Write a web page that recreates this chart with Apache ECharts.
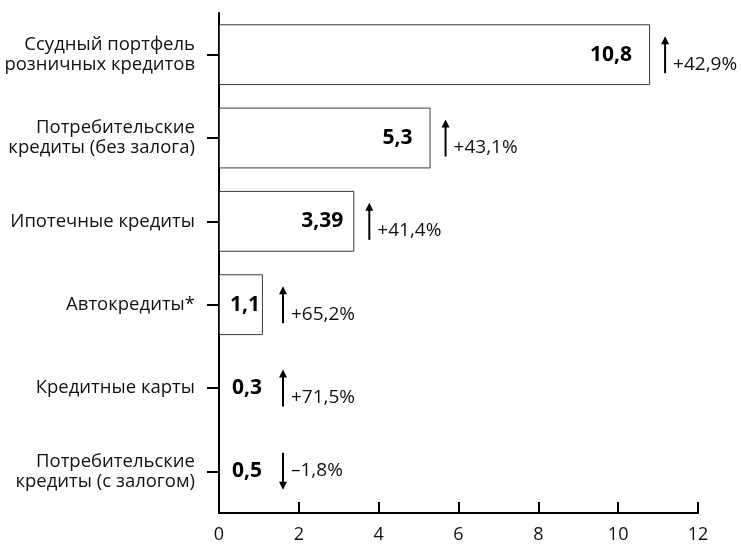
<!DOCTYPE html>
<html><head><meta charset="utf-8">
<script src="https://cdn.jsdelivr.net/npm/echarts@6/dist/echarts.min.js"></script>
<style>html,body{margin:0;padding:0;background:#fff}#c{width:741px;height:546px}</style>
</head><body><div id="c"></div>
<script>
const categories = ['Ссудный портфель\nрозничных кредитов','Потребительские\nкредиты (без залога)','Ипотечные кредиты','Автокредиты*','Кредитные карты','Потребительские\nкредиты (с залогом)'];
const values = [10.8, 5.3, 3.39, 1.1, 0.3, 0.5];
const valueLabels = ['10,8','5,3','3,39','1,1','0,3','0,5'];
const changes = [42.9, 43.1, 41.4, 65.2, 71.5, -1.8];
const changeLabels = ['+42,9%','+43,1%','+41,4%','+65,2%','+71,5%','–1,8%'];
const xTicks = [0, 2, 4, 6, 8, 10, 12];

const FONT = '"Open Sans", "Noto Sans", sans-serif';
const chart = echarts.init(document.getElementById('c'), null, {renderer:'canvas'});

const labelDist = [18, 18, 11, 3];
const barData = values.map((v, i) => {
  let label;
  if (i <= 3) label = {position:'insideRight', distance: labelDist[i]};
  else label = {position:'insideLeft', distance:13};
  const item = {value: v, label: label};
  if (i >= 4) item.itemStyle = {borderColor:'rgba(0,0,0,0)', color:'rgba(0,0,0,0)'};
  return item;
});

chart.setOption({
  animation: false,
  grid: {left: 219, right: 43, top: 13, bottom: 33, containLabel: false, outerBoundsMode: 'none'},
  xAxis: {
    type: 'value', min: xTicks[0], max: xTicks[xTicks.length-1], interval: 2,
    axisLine: {show: true, lineStyle: {color:'#000', width: 2}},
    axisTick: {show: true, inside: true, length: 11, lineStyle: {color:'#000', width: 2}},
    axisLabel: {color:'#111', fontSize: 18, fontFamily: FONT, margin: 13},
    splitLine: {show: false}
  },
  yAxis: {
    type: 'category', data: categories, inverse: true,
    axisLine: {show: true, lineStyle: {color:'#000', width: 2}},
    axisTick: {show: true, alignWithLabel: true, length: 12, lineStyle: {color:'#000', width: 2}},
    axisLabel: {color:'#111', fontSize: 18.5, fontFamily: FONT, margin: 24, lineHeight: 20, align: 'right'}
  },
  series: [
    {
      type: 'bar', data: barData, barWidth: '73%',
      itemStyle: {color:'#fff', borderColor:'#3a3a3a', borderWidth: 1},
      label: {show: true, color:'#000', fontSize: 21, fontWeight: 'bold', fontFamily: FONT,
        formatter: p => valueLabels[p.dataIndex]},
      silent: true
    },
    {
      type: 'custom',
      data: changes.map((c, i) => [values[i], i, c]),
      renderItem: function (params, api) {
        const v = api.value(0), idx = api.value(1), ch = api.value(2);
        const end = api.coord([v, idx]);
        const zero = api.coord([0, idx]);
        const x = end[0] < zero[0] + 47 ? zero[0] + 64 : end[0] + 15;
        const cy = end[1];
        const up = ch >= 0;
        const top = cy - 18.5, bot = cy + 18.5;
        const head = up ? top : bot;
        const dir = up ? 1 : -1;
        return {type:'group', children:[
          {type:'line', shape:{x1:x, y1: up ? top + 5 : top, x2:x, y2: up ? bot : bot - 5},
            style:{stroke:'#000', lineWidth:2}},
          {type:'polygon', shape:{points:[[x, head], [x - 4, head + 8*dir], [x + 4, head + 8*dir]]},
            style:{fill:'#000'}},
          {type:'text', x: x + 8, y: up ? cy + 9.5 : cy - 1,
            style:{text: changeLabels[params.dataIndex], fill:'#111', fontSize: 19, fontFamily: FONT,
              align:'left', verticalAlign:'middle'}}
        ]};
      },
      silent: true, z: 5
    }
  ]
});
</script></body></html>
